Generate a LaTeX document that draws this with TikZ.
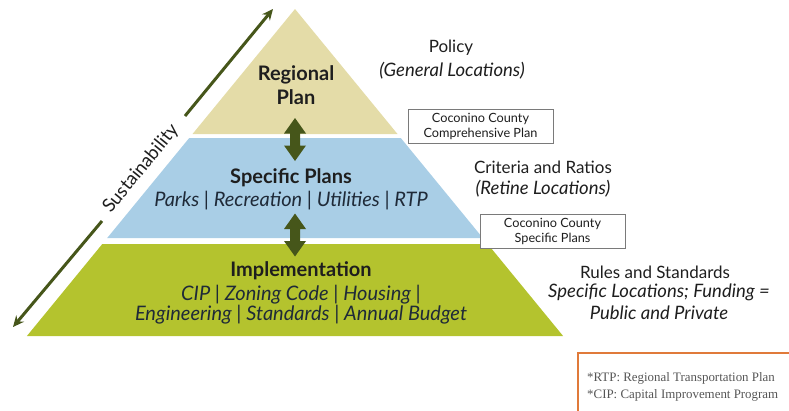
\documentclass[tikz,border=0pt]{standalone}
\usepackage{fontspec}
\setmainfont{Lato}
\newfontfamily\serifnote{Liberation Serif}
\usetikzlibrary{arrows.meta}
\definecolor{layerY}{HTML}{E4DCA8}
\definecolor{layerB}{HTML}{A9CEE6}
\definecolor{layerG}{HTML}{B4C32E}
\definecolor{olive}{HTML}{46561A}
\definecolor{txt}{HTML}{1E1E1E}
\definecolor{itxt}{HTML}{1F2A38}
\definecolor{boxgray}{HTML}{7A7A7A}
\definecolor{orangeb}{HTML}{E07A3A}
\definecolor{notegray}{HTML}{555555}
\tikzset{
  title/.style={font=\fontsize{20}{24}\selectfont\bfseries, text=txt, align=center, inner sep=0pt},
  ital/.style={font=\fontsize{20}{22}\selectfont\itshape, text=itxt, align=center, inner sep=0pt},
  side/.style={font=\fontsize{17}{20}\selectfont, text=txt, align=center, inner sep=0pt},
  sideit/.style={font=\fontsize{18.5}{21}\selectfont\itshape, text=txt, align=center, inner sep=0pt},
  refbox/.style={draw=boxgray, line width=0.8pt, fill=white, font=\fontsize{12.7}{15}\selectfont, text=txt, align=center, minimum width=145pt, minimum height=34pt, inner sep=0pt},
  susarrow/.style={draw=olive, line width=3pt, -{Stealth[length=11pt,width=10pt]}},
}
\begin{document}
\begin{tikzpicture}[x=1pt,y=-1pt]
\useasboundingbox (0,0) rectangle (789,410);
\begin{scope}
\clip (0,0) rectangle (789,410);
% pyramid layers
\fill[layerY] (295,9) -- (397.5,134) -- (192.5,134) -- cycle;
\fill[layerB] (189.2,138) -- (400.8,138) -- (482.8,238) -- (107.2,238) -- cycle;
\fill[layerG] (102.3,244) -- (487.7,244) -- (563.1,336) -- (26.9,336) -- cycle;

% double arrows
\coordinate (da1) at (295,139.5);
\coordinate (da2) at (295,235);
\foreach \c in {da1,da2}{
  \fill[olive] ([shift={(0,-21.5)}]\c) -- ([shift={(11,-6)}]\c) -- ([shift={(5,-6)}]\c) -- ([shift={(5,6)}]\c) -- ([shift={(11,6)}]\c) -- ([shift={(0,21.5)}]\c) -- ([shift={(-11,6)}]\c) -- ([shift={(-5,6)}]\c) -- ([shift={(-5,-6)}]\c) -- ([shift={(-11,-6)}]\c) -- cycle;
}

% sustainability arrow
\coordinate (sA) at (185,116);
\coordinate (sTop) at (273,9);
\coordinate (sB) at (102,221);
\coordinate (sBot) at (13,327);
\draw[susarrow] (sA) -- (sTop);
\draw[susarrow] (sB) -- (sBot);
\node[font=\fontsize{18.5}{21}\selectfont, text=txt, rotate=50.7, anchor=base, inner sep=0pt] (sus) at (145,172) {Sustainability};

% layer texts
\node[title] (reg) at (296,85) {Regional\\Plan};
\node[title] (spec) at (291,178) {Specific Plans};
\node[ital] (specl) at (291,201) {Parks | Recreation | Utilities | RTP};
\node[title] (impl) at (301,271) {Implementation};
\node[ital] (impl1) at (301,295) {CIP | Zoning Code | Housing |};
\node[ital] (impl2) at (301,315) {Engineering | Standards | Annual Budget};

% side texts
\node[side] (pol) at (451,48) {Policy};
\node[sideit] (pol2) at (452,71) {(General Locations)};
\node[refbox] (box1) at (480.5,126.5) {Coconino County\\Comprehensive Plan};
\node[side] (cr) at (543,167) {Criteria and Ratios};
\node[sideit] (cr2) at (543,189) {(Retine Locations)};
\node[refbox] (box2) at (552.5,231) {Coconino County\\Specific Plans};
\node[side] (ru) at (655,272) {Rules and Standards};
\node[sideit] (ru2) at (659,292) {Specific Locations; Funding =};
\node[sideit] (ru3) at (659,313) {Public and Private};

% footnote box
\draw[orangeb, line width=2pt] (578,353) rectangle (800,420);
\node[anchor=west, font=\serifnote\fontsize{12.9}{17}\selectfont, text=notegray, align=left, inner sep=0pt] (note) at (587,386.5) {*RTP: Regional Transportation Plan\\*CIP: Capital Improvement Program};
\end{scope}
\end{tikzpicture}
\end{document}
